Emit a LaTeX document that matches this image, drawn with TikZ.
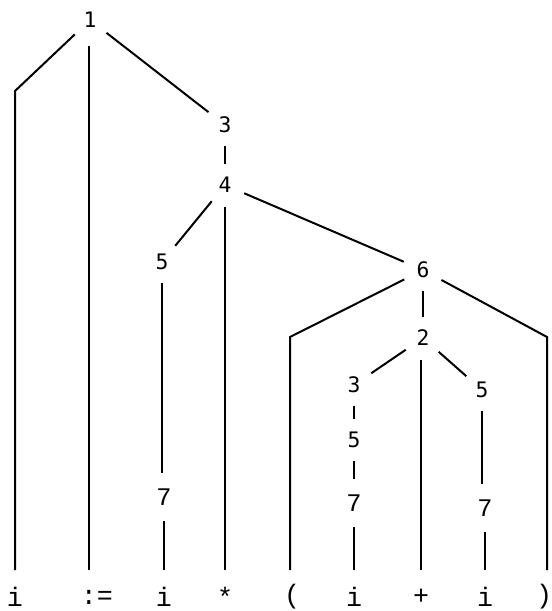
\documentclass[tikz,border=0pt]{standalone}
\usepackage{fontspec}
\newfontfamily\numfont{DejaVu Sans Mono}
\newfontfamily\tokfont{Liberation Mono}
\begin{document}
\begin{tikzpicture}[x=0.75pt,y=-0.75pt,
  num/.style={circle,inner sep=0pt,minimum size=31pt,font=\numfont\fontsize{16}{16}\selectfont},
  sev/.style={circle,inner sep=0pt,minimum size=36pt,font=\tokfont\fontsize{19}{19}\selectfont},
  tok/.style={rectangle,inner sep=0pt,minimum height=40pt,minimum width=10pt,font=\tokfont\fontsize{20}{20}\selectfont},
  edge/.style={line width=1.5pt}]
\useasboundingbox (0,0) rectangle (551,611);
% internal nodes
\node[num] (n1) at (90,20) {1};
\node[num] (n3a) at (225,125) {3};
\node[num] (n4) at (225,185) {4};
\node[num] (n5a) at (162,262) {5};
\node[sev] (n7a) at (164,497) {7};
\node[num] (n6) at (423,270) {6};
\node[num] (n2) at (423,338) {2};
\node[num] (n3b) at (354,385) {3};
\node[num] (n5b) at (354,440) {5};
\node[sev] (n7b) at (354,503) {7};
\node[num] (n5c) at (482,390) {5};
\node[sev] (n7c) at (485,508) {7};
% leaves
\node[tok] (t1) at (15,597) {i};
\node[tok] (t2) at (97,597) {:=};
\node[tok] (t3) at (164,597) {i};
\node[tok] (t4) at (225,597) {*};
\node[tok] (t5) at (292,597) {(};
\node[tok] (t6) at (354,597) {i};
\node[tok] (t7) at (421,597) {+};
\node[tok] (t8) at (485,597) {i};
\node[tok] (t9) at (544,597) {)};
% bend points
\coordinate (b1) at (15,91);
\coordinate (b2) at (89,46);
\coordinate (b4) at (225,207);
\coordinate (b5) at (290,337);
\coordinate (b9) at (547,337);
\coordinate (b7) at (421,360);
% connectors
\draw[edge] (n1) -- (b1) -- (b1 |- t1.north);
\draw[edge] (b2) -- (b2 |- t2.north);
\draw[edge] (n1) -- (n3a);
\draw[edge] (n3a) -- (n4);
\draw[edge] (n4) -- (n5a);
\draw[edge] (n5a) -- (n7a.north -| n5a);
\draw[edge] (n7a) -- (t3);
\draw[edge] (b4) -- (b4 |- t4.north);
\draw[edge] (n4) -- (n6);
\draw[edge] (n6) -- (b5) -- (b5 |- t5.north);
\draw[edge] (n6) -- (n2);
\draw[edge] (n6) -- (b9) -- (b9 |- t9.north);
\draw[edge] (n2) -- (n3b);
\draw[edge] (n3b) -- (n5b);
\draw[edge] (n5b) -- (n7b);
\draw[edge] (n7b) -- (t6);
\draw[edge] (b7) -- (b7 |- t7.north);
\draw[edge] (n2) -- (n5c);
\draw[edge] (n5c) -- (n7c.north -| n5c);
\draw[edge] (n7c) -- (t8);
\end{tikzpicture}
\end{document}
